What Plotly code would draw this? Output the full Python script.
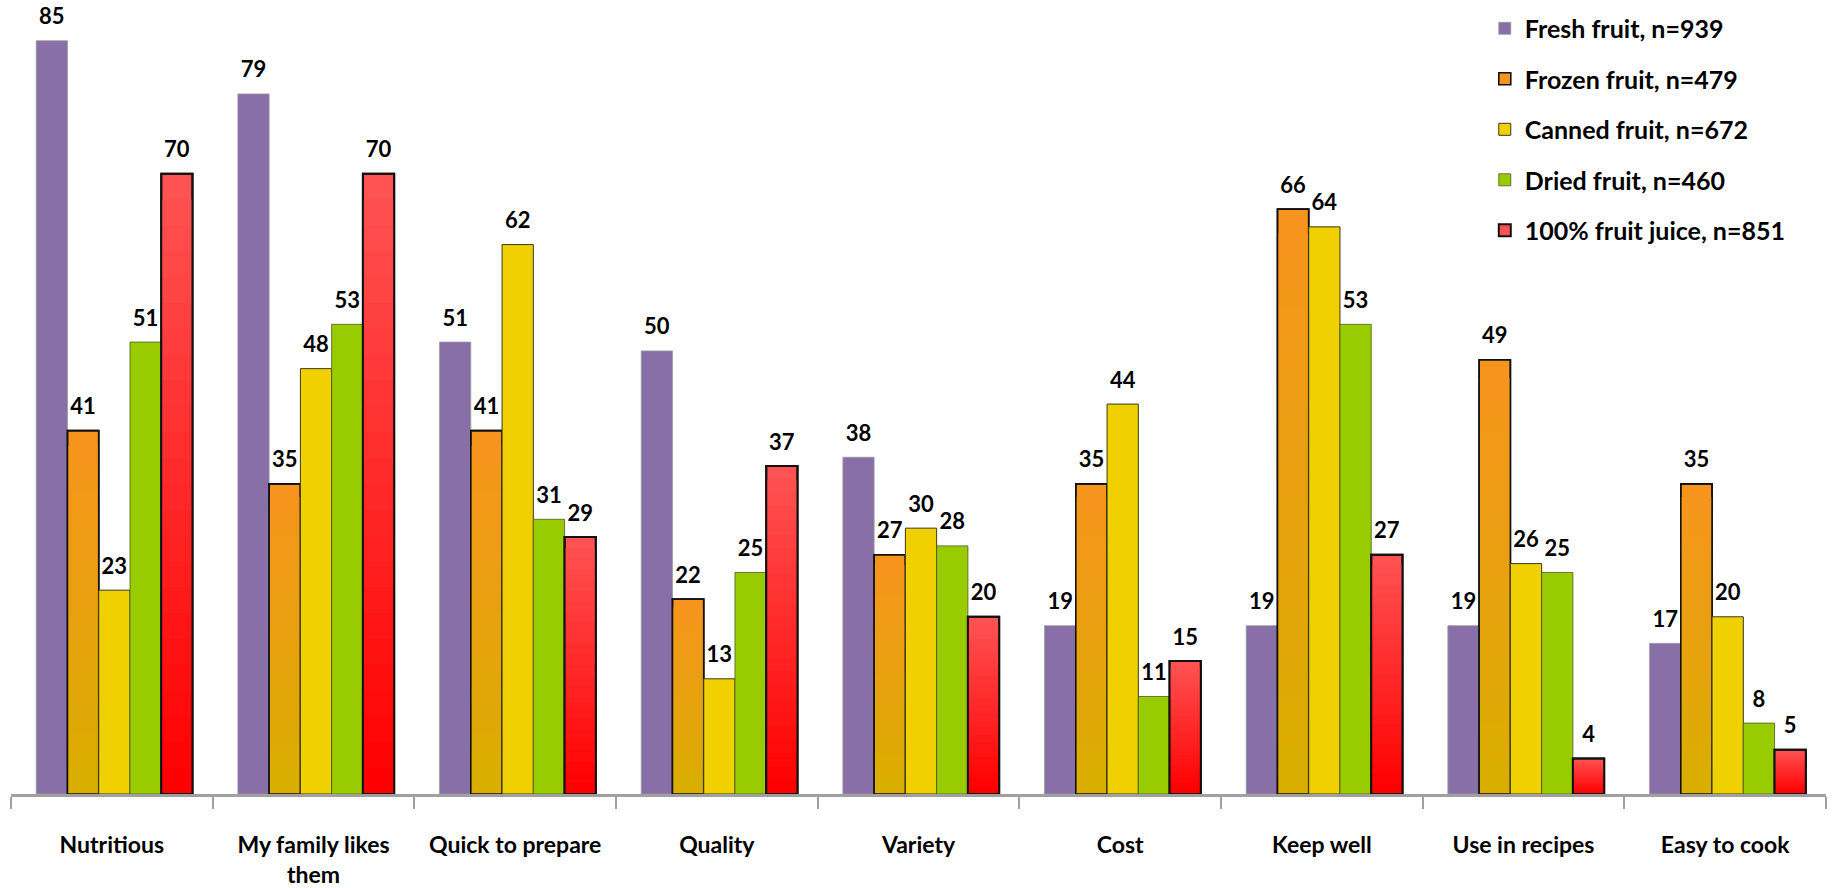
import plotly.graph_objects as go
import numpy as np

# ---------------- data ----------------
categories = ["Nutritious", "My family likes<br>them", "Quick to prepare", "Quality",
              "Variety", "Cost", "Keep well", "Use in recipes", "Easy to cook"]
series_names = ["Fresh fruit, n=939", "Frozen fruit, n=479", "Canned fruit, n=672",
                "Dried fruit, n=460", "100% fruit juice, n=851"]
fresh = [85, 79, 51, 50, 38, 19, 19, 19, 17]
frozen = [41, 35, 41, 22, 27, 35, 66, 49, 35]
canned = [23, 48, 62, 13, 30, 44, 64, 26, 20]
dried = [51, 53, 31, 25, 28, 11, 53, 25, 8]
juice = [70, 70, 29, 37, 20, 15, 27, 4, 5]

series_values = [fresh, frozen, canned, dried, juice]

# ---------------- styles ----------------
FONT = "Lato"
top_colors = ["#886FA8", "#F7941D", "#F0D000", "#99CC00", "#FF5252"]
bottom_colors = ["#886FA8", "#D9AE00", "#F0D000", "#99CC00", "#FF0000"]
line_colors = ["#9A9A9A", "#111111", "#3A3A1A", "#4A5A20", "#111111"]
line_widths = [0.8, 1.6, 1.0, 0.8, 2.0]
gradient_steps = [1, 24, 1, 1, 24]

bar_w = 0.155
start_off = -0.375
xpos = np.arange(len(categories))


def hex2rgb(h):
    h = h.lstrip("#")
    return tuple(int(h[i:i + 2], 16) for i in (0, 2, 4))


def mix(c1, c2, t):
    a, b = hex2rgb(c1), hex2rgb(c2)
    return "rgb(%d,%d,%d)" % tuple(round(a[i] + (b[i] - a[i]) * t) for i in range(3))


fig = go.Figure()

for k, (name, vals) in enumerate(zip(series_names, series_values)):
    off = start_off + k * bar_w
    n = gradient_steps[k]
    for j in range(n):
        frac = 1 - j / n
        t = j / (n - 1) if n > 1 else 0
        fig.add_trace(go.Bar(
            x=xpos, y=[v * frac for v in vals],
            width=bar_w, offset=off,
            marker=dict(color=mix(top_colors[k], bottom_colors[k], t),
                        line=dict(color=line_colors[k] if j == 0 else "rgba(0,0,0,0)",
                                  width=line_widths[k] if j == 0 else 0)),
            name=name, legendgroup=name, showlegend=(j == 0),
            hoverinfo="skip",
        ))
    if n > 1:
        fig.add_trace(go.Bar(
            x=xpos, y=vals, width=bar_w, offset=off,
            marker=dict(color="rgba(0,0,0,0)",
                        line=dict(color=line_colors[k], width=line_widths[k])),
            name=name, legendgroup=name, showlegend=False, hoverinfo="skip",
        ))

# value labels
for k, vals in enumerate(series_values):
    off = start_off + k * bar_w
    fig.add_trace(go.Scatter(
        x=xpos + off + bar_w / 2, y=vals,
        mode="markers+text", text=[str(v) for v in vals],
        textposition="top center",
        textfont=dict(family=FONT, size=22, color="#000000", weight="bold"),
        marker=dict(size=16, opacity=0),
        showlegend=False, hoverinfo="skip", cliponaxis=False,
    ))

fig.update_layout(
    width=1832, height=888,
    barmode="overlay",
    plot_bgcolor="white", paper_bgcolor="white",
    margin=dict(l=11, r=6, t=0, b=94),
    font=dict(family=FONT, size=22, color="#000000", weight="bold"),
    legend=dict(x=0.812, y=0.993, xanchor="left", yanchor="top",
                font=dict(family=FONT, size=25, color="#000000", weight="bold"),
                tracegroupgap=15, bgcolor="rgba(0,0,0,0)",
                traceorder="grouped"),
    xaxis=dict(
        range=[-0.5, len(categories) - 0.5],
        tickmode="array", tickvals=xpos, ticktext=categories,
        ticks="", showgrid=False, zeroline=False,
        showline=True, linecolor="#A0A0A0", linewidth=3,
        tickfont=dict(family=FONT, size=23, color="#000000", weight="bold"),
        ticklabelstandoff=28,
        minor=dict(tick0=-0.5, dtick=1, ticks="outside", ticklen=12,
                   tickwidth=2, tickcolor="#A0A0A0", showgrid=False),
    ),
    yaxis=dict(range=[0, 89.6], visible=False, showgrid=False, zeroline=False),
)

fig.write_html("out.html")
